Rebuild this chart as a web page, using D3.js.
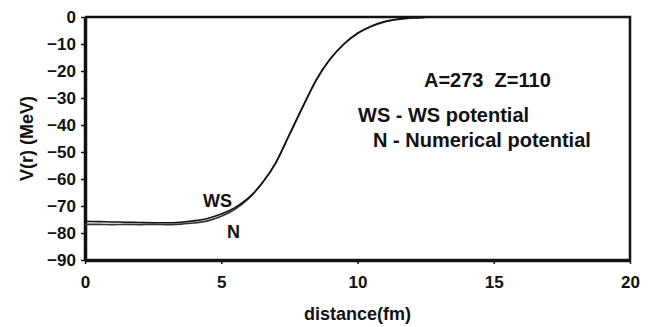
<!DOCTYPE html>
<html>
<head>
<meta charset="utf-8">
<script src="https://cdn.jsdelivr.net/npm/d3@7"></script>
<style>
  body { margin: 0; background: #fff; }
  svg text { font-family: "Liberation Sans", Arial, sans-serif; font-weight: bold; fill: #111; }
</style>
</head>
<body>
<figure id="chart" style="margin:0"></figure>
<script>
// distance (fm)
const distance = [0, 0.5, 1, 1.5, 2, 2.5, 3, 3.5, 4, 4.5, 5, 5.5, 6, 6.5, 7, 7.5, 8, 8.5, 9, 9.5,
  10, 10.5, 11, 11.5, 12, 12.5, 13, 14, 15, 16, 17, 18, 19, 20];
// WS potential (MeV)
const wsPotential = [-75.7, -75.8, -75.9, -76.0, -76.1, -76.2, -76.2, -76.0, -75.5, -74.6, -73.0, -70.6,
  -67.0, -61.5, -54.0, -43.5, -33.0, -23.0, -15.5, -10.0, -6.0, -3.4, -1.7, -0.8, -0.3, -0.1, 0,
  0, 0, 0, 0, 0, 0, 0];
// numerical potential (MeV)
const numPotential = [-76.8, -76.8, -76.9, -76.8, -76.9, -76.8, -76.9, -76.7, -76.3, -75.5, -73.8, -71.2,
  -67.3, -61.6, -54.0, -43.7, -33.2, -23.2, -15.6, -10.1, -6.1, -3.5, -1.8, -0.9, -0.35, -0.12, 0,
  0, 0, 0, 0, 0, 0, 0];

const xTicks = [0, 5, 10, 15, 20];
const yTicks = [0, -10, -20, -30, -40, -50, -60, -70, -80, -90];
const notes = ["A=273\u00a0\u00a0Z=110", "WS - WS potential", "N - Numerical potential"];

const W = 657, H = 327;
const mLeft = 85, mRight = 630, mTop = 17, mBottom = 260;

const svg = d3.select("#chart").append("svg")
  .attr("width", W).attr("height", H);

const x = d3.scaleLinear().domain([0, 20]).range([mLeft, mRight]);
const y = d3.scaleLinear().domain([-90, 0]).range([mBottom, mTop]);

// frame (top and right)
svg.append("path")
  .attr("d", `M${mLeft},${mTop}H${mRight}V${mBottom}`)
  .attr("fill", "none").attr("stroke", "#111").attr("stroke-width", 2.5);

// x axis
const xAxis = svg.append("g")
  .attr("transform", `translate(0,${mBottom})`)
  .call(d3.axisBottom(x).tickValues(xTicks).tickSize(4).tickSizeOuter(0).tickPadding(12));
xAxis.select(".domain").attr("stroke", "#111").attr("stroke-width", 3.5);
xAxis.selectAll(".tick line").attr("stroke", "#111").attr("stroke-width", 1.5);

// y axis
const yAxis = svg.append("g")
  .attr("transform", `translate(${mLeft},0)`)
  .call(d3.axisLeft(y).tickValues(yTicks).tickSize(4).tickSizeOuter(0).tickPadding(5));
yAxis.select(".domain").attr("stroke", "#111").attr("stroke-width", 3.5);
yAxis.selectAll(".tick line").attr("stroke", "#111").attr("stroke-width", 1.5);

svg.selectAll("g").attr("font-family", null).attr("font-size", null);
svg.selectAll(".tick text")
  .attr("fill", "#111")
  .style("font-size", "17px")
  .style("font-weight", "bold");

// axis titles
svg.append("text")
  .attr("x", (mLeft + mRight) / 2).attr("y", 320)
  .attr("text-anchor", "middle").attr("font-size", 18)
  .text("distance(fm)");

svg.append("text")
  .attr("transform", `translate(33,${(mTop + mBottom) / 2}) rotate(-90)`)
  .attr("text-anchor", "middle").attr("font-size", 18)
  .text("V(r) (MeV)");

// curves
const pts = arr => distance.map((d, i) => [d, arr[i]]);
const line = d3.line().x(d => x(d[0])).y(d => y(d[1])).curve(d3.curveMonotoneX);

svg.append("path").datum(pts(numPotential))
  .attr("d", line).attr("fill", "none")
  .attr("stroke", "#333").attr("stroke-width", 1.6);
svg.append("path").datum(pts(wsPotential))
  .attr("d", line).attr("fill", "none")
  .attr("stroke", "#111").attr("stroke-width", 1.6);

// curve labels
svg.append("text").attr("x", 203).attr("y", 207).attr("font-size", 18).text("WS");
svg.append("text").attr("x", 227).attr("y", 238).attr("font-size", 18).text("N");

// notes
svg.append("text").attr("x", 424).attr("y", 87).attr("font-size", 20).text(notes[0]);
svg.append("text").attr("x", 358).attr("y", 122).attr("font-size", 20).text(notes[1]);
svg.append("text").attr("x", 373).attr("y", 147).attr("font-size", 20).text(notes[2]);
</script>
</body>
</html>
